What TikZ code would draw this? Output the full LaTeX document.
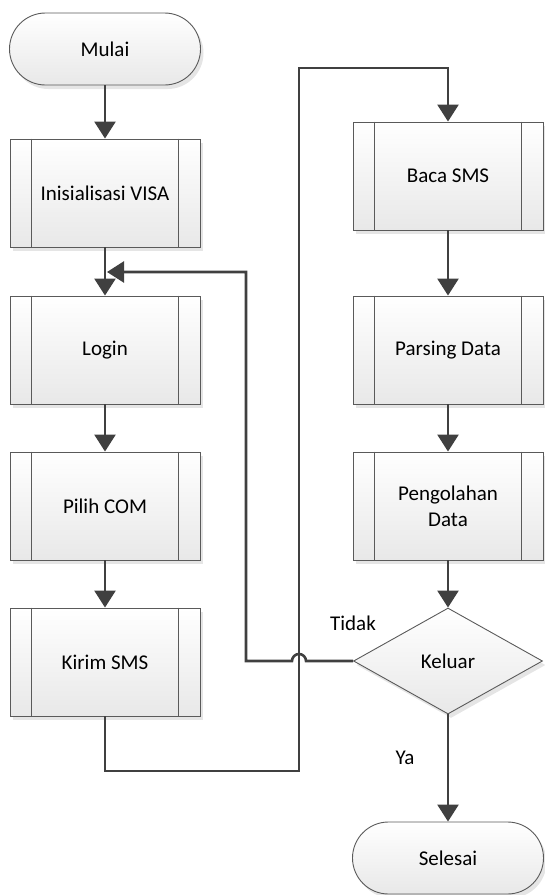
\documentclass[tikz,border=0pt]{standalone}
\usepackage{fontspec}
\setmainfont{Carlito}
\usetikzlibrary{shapes.geometric,shapes.misc,shadows,arrows.meta,calc}
\definecolor{conn}{HTML}{404040}
\definecolor{edgec}{HTML}{5A5A5A}
\begin{document}
\begin{tikzpicture}[x=1pt,y=-1pt,
  font=\fontsize{21}{26}\selectfont,
  shapebase/.style={draw=edgec, line width=0.9pt, top color=white, bottom color=black!9,
    drop shadow={shadow xshift=3pt, shadow yshift=-4pt, fill=black!10, opacity=1}},
  procbox/.style={shapebase, rectangle, minimum width=190pt, minimum height=108pt, inner sep=0pt},
  term/.style={shapebase, rounded rectangle, minimum width=191pt, minimum height=72pt, inner sep=0pt},
  decision/.style={shapebase, diamond, aspect=1.78, minimum width=189pt, minimum height=106pt, inner sep=0pt},
  flow/.style={draw=conn, line width=2.6pt, -{Triangle[width=21pt,length=17pt]}},
  innerline/.style={draw=edgec, line width=0.9pt},
]
\useasboundingbox (0,0) rectangle (544,895);

\node[term] (mulai) at (105,49) {Mulai};
\node[procbox] (init) at (105,193) {Inisialisasi VISA};
\node[procbox] (login) at (105,350) {Login};
\node[procbox] (pilih) at (105,506) {Pilih COM};
\node[procbox] (kirim) at (105,662) {Kirim SMS};
\node[procbox] (baca) at (448,176) {Baca SMS};
\node[procbox] (parsing) at (448,350) {Parsing Data};
\node[procbox, align=center] (pengolahan) at (448,506) {Pengolahan\\Data};
\node[decision] (keluar) at (448,661) {Keluar};
\node[term] (selesai) at (448,858) {Selesai};

\foreach \n in {init,login,pilih,kirim,baca,parsing,pengolahan}{
  \draw[innerline] ($(\n.north west)+(22,0)$) -- ($(\n.south west)+(22,0)$);
  \draw[innerline] ($(\n.north east)+(-22,0)$) -- ($(\n.south east)+(-22,0)$);
}

\node (tidak) at (353,623) {Tidak};
\node (ya) at (405,758) {Ya};

\draw[flow] (mulai.south) -- (init.north);
\draw[flow] (init.south) -- (login.north);
\draw[flow] (login.south) -- (pilih.north);
\draw[flow] (pilih.south) -- (kirim.north);
\draw[flow] (baca.south) -- (parsing.north);
\draw[flow] (parsing.south) -- (pengolahan.north);
\draw[flow] (pengolahan.south) -- (keluar.north);
\draw[flow] (keluar.south) -- (selesai.north);

\coordinate (k1) at (105,771);
\coordinate (k2) at (299,771);
\coordinate (k3) at (299,68);
\coordinate (k4) at (448,68);
\draw[flow] (kirim.south) -- (k1) -- (k2) -- (k3) -- (k4) -- (baca.north);

\coordinate (j1) at (306,661);
\coordinate (f1) at (246,661);
\coordinate (f2) at (246,272);
\coordinate (f3) at (107,272);
\draw[flow] (keluar.west) -- (j1) arc[start angle=0, end angle=180, radius=7pt] -- (f1) -- (f2) -- (f3);
\end{tikzpicture}
\end{document}
